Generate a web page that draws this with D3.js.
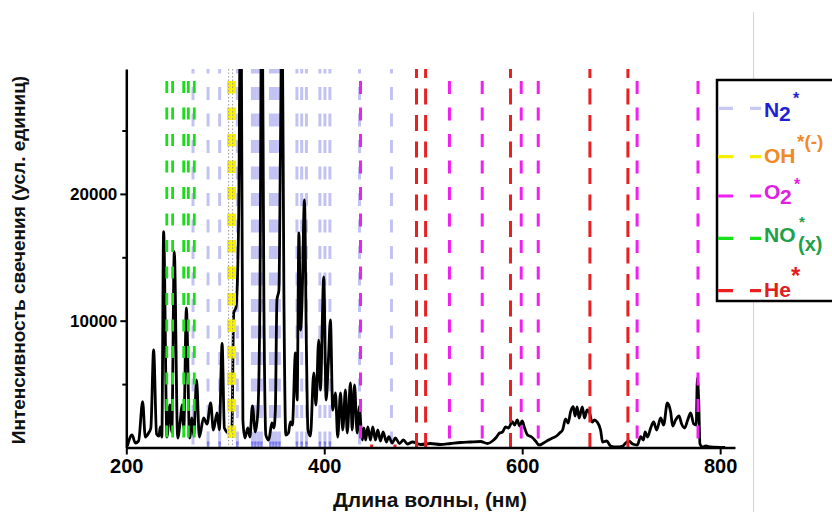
<!DOCTYPE html>
<html><head><meta charset="utf-8">
<script src="https://cdn.jsdelivr.net/npm/d3@7"></script>
<style>
body{margin:0;background:#fff}
svg{display:block}
text{font-family:"Liberation Sans",Arial,sans-serif;font-weight:bold}
</style>
</head><body>
<svg id="c" width="832" height="512"></svg>
<script>
// ---- data ----
const wavelength = [201.0,205.8,209.1,212.4,216.5,219.2,222.5,224.8,227.6,230.6,
232.9,234.4,235.9,237.7,241.1,244.0,246.0,248.5,251.9,254.6,
256.3,258.1,260.7,264.0,266.4,268.2,271.0,273.8,278.1,281.6,
285.2,288.0,291.7,294.0,296.8,299.1,303.4,306.7,308.5,310.9,
313.5,315.8,317.8,319.8,322.8,324.9,327.4,330.4,332.9,335.0,
337.0,339.0,341.0,343.9,347.1,349.1,350.6,352.2,354.2,355.7,
357.4,359.2,361.2,363.8,365.8,367.8,370.9,372.6,374.4,376.2,
377.6,380.0,382.0,383.5,386.0,389.4,391.6,394.4,396.1,399.5,
401.9,404.2,406.2,408.6,411.3,413.6,416.4,418.7,421.4,423.2,
426.5,428.2,430.6,433.2,435.6,437.1,438.6,440.1,441.8,444.0,
446.7,449.0,451.7,454.1,456.8,459.5,462.8,465.2,468.6,471.9,
476.0,480.0,484.1,489.1,497.2,507.3,517.4,527.6,537.7,547.8,
557.9,565.0,570.0,574.1,577.1,580.1,583.2,586.2,589.9,592.3,
595.0,597.3,600.0,602.4,605.4,609.5,613.5,617.0,621.6,626.6,
630.7,634.7,637.8,640.8,643.8,646.4,648.9,651.6,653.4,655.5,
657.5,660.7,663.0,665.6,668.1,670.6,673.1,675.7,679.2,681.2,
685.3,689.3,695.4,701.5,704.5,707.6,711.6,716.3,719.7,722.4,
724.2,726.7,729.8,732.8,735.8,739.9,742.9,746.6,750.0,752.0,
755.0,758.4,761.1,764.1,767.2,770.2,773.3,775.8,777.0,778.3,
779.6,782.4,785.4,790.5,805.0];
const intensity = [118,986,355,513,3612,828,1143,1538,7689,1065,
907,1617,828,17018,828,3352,1222,15441,749,2169,
3352,1538,11000,749,2326,907,5323,828,2326,1853,
3509,1380,2721,1380,8217,1538,1143,1538,10606,11080,
17940,40000,2169,749,1538,828,3273,1222,2800,11632,
40000,11632,986,591,1932,1538,2957,11632,12420,23224,
36000,12420,986,1143,2011,1774,7452,3746,16915,9266,
11632,19518,7689,1380,907,5875,3352,8477,4534,13446,
3746,6900,10054,2957,4298,828,4298,1380,4534,1143,
5086,1380,4929,1143,3217,1617,591,1538,591,1617,
591,1617,591,1380,513,1222,434,852,355,749,
315,591,276,434,237,315,237,315,394,434,
473,315,513,828,1143,1222,1617,1538,2035,1774,
2169,1695,2090,1538,986,828,513,197,355,591,
749,907,1143,1380,2247,1932,2823,3217,2484,3194,
2326,3194,2326,2957,2721,2011,2169,2011,1380,434,
513,118,39,118,355,513,276,197,852,591,
1222,828,1538,2011,1380,2326,1774,3509,2800,1695,
2169,2484,1853,1538,2169,2721,1853,1774,5481,3746,
276,39,118,39,0];

const n2Lines = [267.4,282.6,294.3,312.2,327.4,330.4,333.5,336.5,345.6,348.6,351.6,354.7,372.4,377.2,382.0,395.6,400.7,405.7,435.6,467.9];
const ohLines = [304.1,308.5];
const ohDotted = [303.4,307.4];
const o2Lines = [436.6,526.5,559.6,599.0,616.2,716.1,777.6];
const noLines = [240.9,246.8,258.0,262.7,268.7];
const heLines = [493.2,502.4,588.2,668.4,706.8];
const heShort = [447.9,471.5];

const xTicks = [200,400,600,800];
const yTicks = [10000,20000];
const yMinorTicks = [5000,15000,25000];

const xTitle = "Длина волны, (нм)";
const yTitle = "Интенсивность свечения (усл. единиц)";

// ---- scales ----
const svg = d3.select("#c");
const x = d3.scaleLinear().domain([200, 815]).range([126.3, 735]);
const y = d3.scaleLinear().domain([0, 29850]).range([447.5, 69]);
const yTop = y(29850), yBot = y(0);

// page border artefact
svg.append("line").attr("x1",753.5).attr("x2",753.5).attr("y1",12).attr("y2",512)
  .attr("stroke","#d4d4d4").attr("stroke-width",1);

svg.append("clipPath").attr("id","plotclip").append("rect")
  .attr("x",x(200)).attr("y",yTop).attr("width",x(815)-x(200)).attr("height",yBot-yTop);

const plot = svg.append("g").attr("clip-path","url(#plotclip)");

function vlines(data, color, width, y0, dash, offset, opacity){
  plot.append("g").selectAll("line").data(data).join("line")
    .attr("x1",d=>x(d)).attr("x2",d=>x(d))
    .attr("y1",y0).attr("y2",yBot)
    .attr("stroke",color).attr("stroke-width",width)
    .attr("stroke-dasharray",dash).attr("stroke-dashoffset",offset||0)
    .attr("opacity",opacity==null?1:opacity);
}

// N2 lines (behind spectrum)
vlines(n2Lines, "#6a6ae0", 3, yTop, "13,13.5", 8.5, 0.4);
plot.append("g").selectAll("line").data(n2Lines.slice(1,18)).join("line")
  .attr("x1",d=>x(d)).attr("x2",d=>x(d)).attr("y1",yBot-6).attr("y2",yBot)
  .attr("stroke","#5a5ae6").attr("stroke-width",2.5).attr("opacity",0.7);

// spectrum
const line = d3.line().x((d,i)=>x(wavelength[i])).y(d=>y(d)).curve(d3.curveMonotoneX);
plot.append("path").datum(intensity).attr("d",line)
  .attr("fill","none").attr("stroke","#000").attr("stroke-width",2.8).attr("stroke-linejoin","round");

// other species
vlines(noLines, "#18e018", 2.8, 81, "12,14.5", 0);
vlines(ohLines, "#f4f000", 4.5, 81, "12.5,14", 0);
plot.append("g").selectAll("line").data(ohDotted).join("line")
  .attr("x1",d=>x(d)).attr("x2",d=>x(d)).attr("y1",yTop).attr("y2",yBot)
  .attr("stroke","#a09a9a").attr("stroke-width",1).attr("stroke-dasharray","1.5,2");
vlines(o2Lines, "#f020f0", 3, 81, "13,13.5", 0);
vlines(heLines, "#e82020", 3, yTop, "16,10.5", 7);
plot.append("g").selectAll("line").data(heShort).join("line")
  .attr("x1",d=>x(d)).attr("x2",d=>x(d)).attr("y1",yBot-11).attr("y2",yBot)
  .attr("stroke","#e82020").attr("stroke-width",3).attr("stroke-dasharray","0,8,4,100");

// ---- axes ----
const xAxis = svg.append("g").attr("transform",`translate(0,${yBot})`)
  .call(d3.axisBottom(x).tickValues(xTicks).tickSize(7).tickSizeOuter(0).tickPadding(4).tickFormat(d3.format("d")));
const yAxis = svg.append("g").attr("transform",`translate(${x(200)},0)`)
  .call(d3.axisLeft(y).tickValues(yTicks).tickSize(6).tickSizeOuter(0).tickPadding(3).tickFormat(d3.format("d")));
const yMinor = svg.append("g").attr("transform",`translate(${x(200)},0)`)
  .call(d3.axisLeft(y).tickValues(yMinorTicks).tickSize(4).tickSizeOuter(0).tickFormat(""));
yMinor.select(".domain").remove();
[xAxis,yAxis,yMinor].forEach(g=>{
  g.select(".domain").attr("stroke","#000").attr("stroke-width",2.5);
  g.selectAll(".tick line").attr("stroke","#000").attr("stroke-width",2);
  g.selectAll("text").attr("fill","#000").style("font-size","20px").style("font-weight","bold")
    .style("font-family",'"Liberation Sans",Arial,sans-serif');
});
yAxis.selectAll("text").style("font-size","17px");

svg.append("text").attr("x",430).attr("y",507).attr("text-anchor","middle")
  .style("font-size","21px").attr("fill","#111").text(xTitle);
svg.append("text").attr("transform","translate(25,260) rotate(-90)").attr("text-anchor","middle")
  .style("font-size","19px").attr("fill","#111").text(yTitle);

// ---- legend ----
const leg = svg.append("g");
leg.append("rect").attr("x",717).attr("y",80).attr("width",140).attr("height",221)
  .attr("fill","#fff").attr("stroke","#000").attr("stroke-width",2.5);

const legendKeys = ["N2","OH","O2","NO","He"];
const legendLineColors = ["#c8c8f4","#f4f000","#f020f0","#18e018","#e82020"];
const legendTextColors = ["#1f1fd8","#f08a28","#e020e0","#20a048","#e02020"];
const legendLineY = [108.3,156.7,196,238.3,290.7];
const legendBaseY = [117,163,198.5,242,297];

leg.selectAll("line.k").data(legendKeys).join("line").attr("class","k")
  .attr("x1",718).attr("x2",761).attr("y1",(d,i)=>legendLineY[i]).attr("y2",(d,i)=>legendLineY[i])
  .attr("stroke",(d,i)=>legendLineColors[i]).attr("stroke-width",3.2).attr("stroke-dasharray","15,17,11");

function t(xp, yp, s, size, color){
  return leg.append("text").attr("x",xp).attr("y",yp).style("font-size",size+"px").attr("fill",color).text(s);
}
// N2*
t(764,legendBaseY[0],"N",21,legendTextColors[0]);
t(779,legendBaseY[0]+4,"2",21,legendTextColors[0]);
t(793,104,"*",16,legendTextColors[0]);
// OH*(-)
t(764,legendBaseY[1],"OH",21,legendTextColors[1]);
t(797,148,"*(-)",19,legendTextColors[1]);
// O2*
t(764,legendBaseY[2],"O",21,legendTextColors[2]);
t(780,legendBaseY[2]+5,"2",21,legendTextColors[2]);
t(794,190,"*",16,legendTextColors[2]);
// NO*(x)
t(764,legendBaseY[3],"NO",21,legendTextColors[3]);
t(799,227,"*",15,legendTextColors[3]);
t(798,251,"(x)",20,legendTextColors[3]);
// He*
t(764,legendBaseY[4],"He",21,legendTextColors[4]);
t(791,284,"*",24,legendTextColors[4]);
</script>
</body></html>
